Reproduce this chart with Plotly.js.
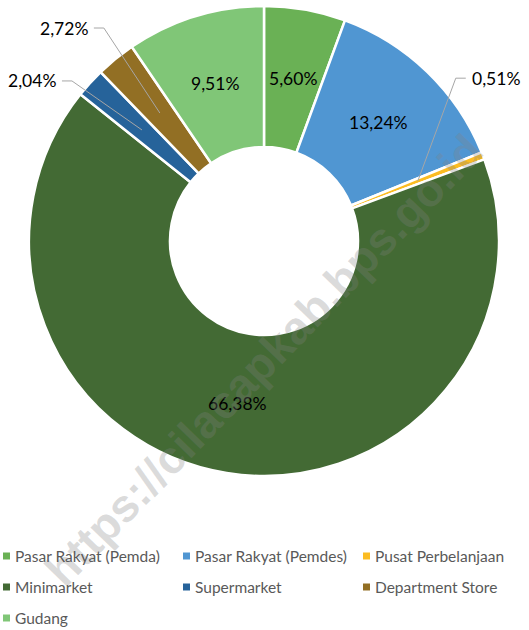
<!DOCTYPE html>
<html>
<head>
<meta charset="utf-8">
<script src="https://cdn.plot.ly/plotly-3.0.1.min.js"></script>
<style>
  html, body { margin: 0; padding: 0; background: #ffffff; }
  #chart { width: 529px; height: 630px; }
</style>
</head>
<body>
<div id="chart"></div>
<script>
// ---- Data ----
const categories = [
  "Pasar Rakyat (Pemda)",
  "Pasar Rakyat (Pemdes)",
  "Pusat Perbelanjaan",
  "Minimarket",
  "Supermarket",
  "Department Store",
  "Gudang"
];
const shares = [5.60, 13.24, 0.51, 66.38, 2.04, 2.72, 9.51];
const sliceColors = ["#6ab155", "#5096d2", "#fbbc22", "#436a34", "#26639a", "#926f24", "#80c677"];
const outsideLabelIdx = [2, 4, 5];
const legendRows = [[0, 1, 2], [3, 4, 5], [6]];
const watermarkText = "https://cilacapkab.bps.go.id";

// ---- Geometry ----
const W = 529, H = 630;
const CX = 264, CY = 241, R = 235, RMID = 165;
const fmt = v => v.toFixed(2).replace('.', ',') + '%';
const toPX = px => px / W;
const toPY = py => 1 - py / H;
const labelFont = { family: 'Lato, sans-serif', size: 17.5, color: '#000000' };

const pie = {
  type: 'pie',
  labels: categories,
  values: shares,
  sort: false,
  direction: 'clockwise',
  rotation: 0,
  hole: 0.40,
  marker: { colors: sliceColors, line: { color: '#ffffff', width: 2.5 } },
  textinfo: 'none',
  showlegend: false,
  hoverinfo: 'label+percent',
  domain: { x: [toPX(CX - R), toPX(CX + R)], y: [toPY(CY + R), toPY(CY - R)] }
};

// slice label positions from the data (mid-angle on the ring middle)
const total = shares.reduce((a, b) => a + b, 0);
function slicePoint(i, rad) {
  let before = 0;
  for (let k = 0; k < i; k++) before += shares[k];
  const a = 2 * Math.PI * (before + shares[i] / 2) / total;
  return [CX + rad * Math.sin(a), CY - rad * Math.cos(a)];
}
const annotations = [];
const shapes = [];
shares.forEach((v, i) => {
  if (outsideLabelIdx.includes(i)) return;
  const p = slicePoint(i, RMID);
  annotations.push({
    xref: 'paper', yref: 'paper', x: toPX(p[0]), y: toPY(p[1]),
    xanchor: 'center', yanchor: 'middle', text: fmt(v), showarrow: false, font: labelFont
  });
});

// outside labels with elbow leader lines
const elbowOffsets = { 2: [38, -103, 1], 4: [-70, -49, -1], 5: [-56, -85, -1] };
outsideLabelIdx.forEach(i => {
  const p = slicePoint(i, RMID);
  const off = elbowOffsets[i];
  const e = [p[0] + off[0], p[1] + off[1]];
  const t = [e[0] + 10 * off[2], e[1]];
  shapes.push({
    type: 'path', xref: 'paper', yref: 'paper',
    path: `M ${toPX(p[0])},${toPY(p[1])} L ${toPX(e[0])},${toPY(e[1])} L ${toPX(t[0])},${toPY(t[1])}`,
    line: { color: '#a6a6a6', width: 1 }
  });
  annotations.push({
    xref: 'paper', yref: 'paper', x: toPX(t[0] + 4 * off[2]), y: toPY(t[1]),
    xanchor: off[2] > 0 ? 'left' : 'right', yanchor: 'middle',
    text: fmt(shares[i]), showarrow: false, font: labelFont
  });
});

// watermark
annotations.push({
  xref: 'paper', yref: 'paper', x: toPX(264), y: toPY(360),
  xanchor: 'center', yanchor: 'middle', textangle: -46,
  text: '<b>' + watermarkText + '</b>', showarrow: false,
  font: { family: 'Liberation Sans, Arial, sans-serif', size: 46, color: 'rgba(130,130,130,0.28)' }
});

// legend (3-column grid below the chart)
const colX = [3, 183, 363];
const rowY = [556, 587, 618];
const SQ = 7;
legendRows.forEach((row, r) => {
  row.forEach((i, c) => {
    const x0 = colX[c], yc = rowY[r];
    shapes.push({
      type: 'rect', xref: 'paper', yref: 'paper',
      x0: toPX(x0), x1: toPX(x0 + SQ), y0: toPY(yc + SQ / 2), y1: toPY(yc - SQ / 2),
      fillcolor: sliceColors[i], line: { width: 0 }
    });
    annotations.push({
      xref: 'paper', yref: 'paper', x: toPX(x0 + SQ + 3), y: toPY(yc),
      xanchor: 'left', yanchor: 'middle', text: categories[i], showarrow: false,
      font: { family: 'Lato, sans-serif', size: 15.5, color: '#595959' }
    });
  });
});

const layout = {
  width: W, height: H,
  margin: { l: 0, r: 0, t: 0, b: 0, autoexpand: false },
  paper_bgcolor: '#ffffff', plot_bgcolor: '#ffffff',
  showlegend: false,
  annotations: annotations,
  shapes: shapes
};

Plotly.newPlot('chart', [pie], layout, { displayModeBar: false, staticPlot: true });
</script>
</body>
</html>
